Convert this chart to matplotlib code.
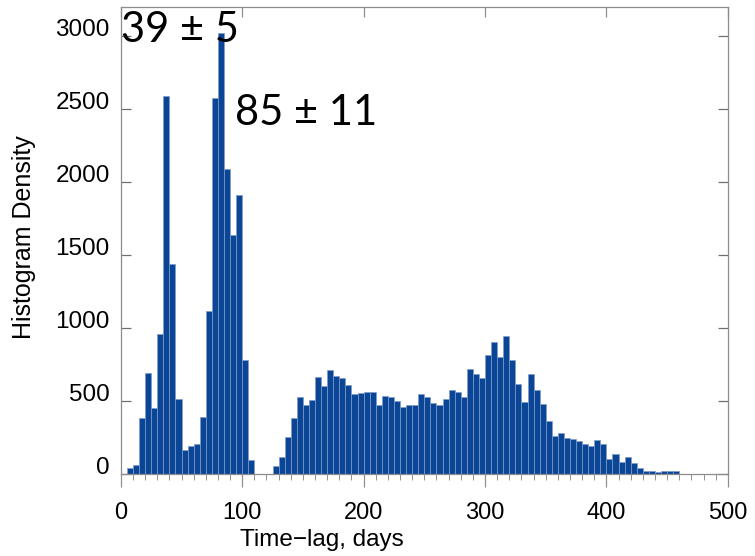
import numpy as np
import matplotlib
matplotlib.use("Agg")
import matplotlib.pyplot as plt
from matplotlib.ticker import MultipleLocator

# bin left edges (days), bin width 5
bin_width = 5
edges_a = np.arange(5, 110, 5)
counts_a = [41, 60, 385, 693, 454, 959, 2592, 1438, 516, 165, 195, 206, 390,
            1117, 2578, 3023, 2092, 1640, 1911, 784, 99]

edges_b = np.arange(125, 460, 5)
counts_b = [55, 115, 257, 387, 525, 475, 509, 662, 605, 715, 669, 658, 612,
            548, 555, 559, 559, 470, 532, 527, 502, 456, 470, 470, 548, 527,
            490, 470, 513, 574, 562,
            527, 722, 686, 658, 818, 906, 800, 944, 779, 619, 493, 686, 578,
            479, 360, 261, 284, 250, 241, 227, 204, 195, 234, 204, 101, 135,
            85, 119, 73, 43, 22, 22, 16, 23, 23, 20]

labels = ["39 \u00b1 5", "85 \u00b1 11"]
label_pos = [(0, 2960), (94, 2395)]

plt.rcParams['font.family'] = ['Liberation Sans', 'DejaVu Sans']

fig = plt.figure(figsize=(7.55, 5.56), dpi=100)
ax = fig.add_axes([0.160, 0.1475, 0.804, 0.8395])

edges = np.concatenate([edges_a, edges_b])
counts = np.concatenate([counts_a, counts_b])
ax.bar(edges, counts, width=bin_width, align='edge', color='#0b4696',
       edgecolor='#7f9ccc', linewidth=0.5)

ax.set_xlim(0, 500)
ax.set_ylim(0, 3200)
ax.set_xticks(np.arange(0, 501, 100))
ax.set_yticks(np.arange(0, 3001, 500))
ax.xaxis.set_minor_locator(MultipleLocator(10))

for s in ax.spines.values():
    s.set_color('#8c8c8c')
    s.set_linewidth(0.9)

ax.tick_params(axis='y', which='major', direction='in', length=7.5, width=0.9,
               color='#707070', left=True, right=True, labelsize=17.5, pad=8)
ax.tick_params(axis='x', which='major', direction='out', length=9, width=0.9,
               color='#909090', labelsize=17, pad=11.5)
ax.tick_params(axis='x', which='minor', direction='out', length=4, width=0.7,
               color='#909090')
for lbl in ax.get_yticklabels():
    lbl.set_va('baseline')

# top ticks point inward
top = ax.secondary_xaxis('top')
top.set_xticks(np.arange(0, 501, 100))
top.tick_params(direction='in', length=7, width=0.9, color='#909090',
                labeltop=False)
top.spines['top'].set_visible(False)

fig.text(322 / 755, 1 - 540 / 556, "Time\u2212lag, days", fontsize=17.5,
         ha='center', va='center')
fig.text(24 / 755, 1 - 237 / 556, "Histogram Density", fontsize=18,
         rotation=90, ha='center', va='center')

for txt, (xp, yp) in zip(labels, label_pos):
    ax.text(xp, yp, txt, fontsize=30, family=['Lato', 'DejaVu Sans'],
            ha='left', va='baseline', clip_on=False)

fig.savefig("out.png", dpi=100)
